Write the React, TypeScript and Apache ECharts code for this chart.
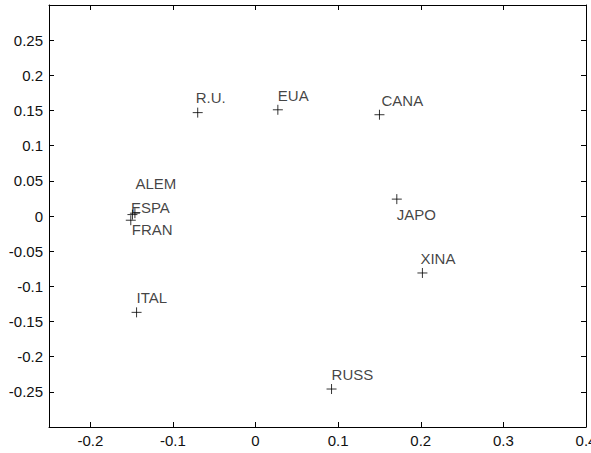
import React, { useEffect, useRef } from "react";
import * as echarts from "echarts";

// Data
const names = ["R.U.", "EUA", "CANA", "JAPO", "XINA", "RUSS", "ITAL", "ALEM", "ESPA", "FRAN"];
const xValues = [-0.07, 0.027, 0.15, 0.171, 0.202, 0.092, -0.144, -0.149, -0.146, -0.151];
const yValues = [0.147, 0.151, 0.144, 0.024, -0.081, -0.246, -0.137, 0.002, 0.004, -0.006];

// Label placement (pixels, relative to the marker centre)
const labelOffsets: Record<string, [number, number]> = {
  "R.U.": [-2, -15],
  EUA: [0, -14],
  CANA: [2, -14],
  JAPO: [0, 15],
  XINA: [-2, -14],
  RUSS: [0, -15],
  ITAL: [0, -15],
  ALEM: [3, -31],
  ESPA: [-4, -6],
  FRAN: [1, 9],
};

const FONT = "Liberation Sans, Arial, sans-serif";
const fmt = (v: number) => String(parseFloat(v.toFixed(3)));

export default function App() {
  const ref = useRef<HTMLDivElement>(null);
  useEffect(() => {
    if (!ref.current) return;
    const chart = echarts.init(ref.current, undefined, { renderer: "svg" });
    const axisCommon = {
      axisLine: { show: true, onZero: false, lineStyle: { color: "#000", width: 1 } },
      axisTick: { show: true, inside: true, length: 5, lineStyle: { color: "#000" } },
      splitLine: { show: false },
    };
    const labelStyle = { color: "#111", fontSize: 15, fontFamily: FONT };
    chart.setOption({
      animation: false,
      backgroundColor: "#fff",
      grid: { left: 49, top: 5, right: 5, bottom: 26, containLabel: false, outerBoundsMode: "none" },
      xAxis: [
        {
          type: "value",
          min: -0.25,
          max: 0.4,
          splitNumber: 6,
          position: "bottom",
          ...axisCommon,
          axisLabel: { ...labelStyle, margin: 6, showMinLabel: false, formatter: fmt },
        },
        {
          type: "value",
          min: -0.25,
          max: 0.4,
          splitNumber: 6,
          position: "top",
          ...axisCommon,
          axisLabel: { show: false },
        },
      ],
      yAxis: [
        {
          type: "value",
          min: -0.3,
          max: 0.3,
          interval: 0.05,
          position: "left",
          ...axisCommon,
          axisLabel: { ...labelStyle, margin: 6, showMinLabel: false, showMaxLabel: false, formatter: fmt },
        },
        {
          type: "value",
          min: -0.3,
          max: 0.3,
          interval: 0.05,
          position: "right",
          ...axisCommon,
          axisLabel: { show: false },
        },
      ],
      series: [
        {
          type: "scatter",
          xAxisIndex: 0,
          yAxisIndex: 0,
          symbol: "path://M0,5L10,5M5,0L5,10",
          symbolSize: 10,
          itemStyle: { color: "rgba(0,0,0,0)", borderColor: "#000", borderWidth: 1 },
          data: names.map((n, i) => ({
            name: n,
            value: [xValues[i], yValues[i]],
            label: {
              show: true,
              formatter: n,
              position: ["50%", "50%"],
              align: "left",
              verticalAlign: "middle",
              offset: labelOffsets[n] || [0, 0],
              ...labelStyle,
            },
          })),
          emphasis: { disabled: true },
        },
      ],
    });
    return () => chart.dispose();
  }, []);
  return (
    <div
      ref={ref}
      style={{ position: "fixed", left: 0, top: 0, width: 591, height: 453, background: "#fff" }}
    />
  );
}
